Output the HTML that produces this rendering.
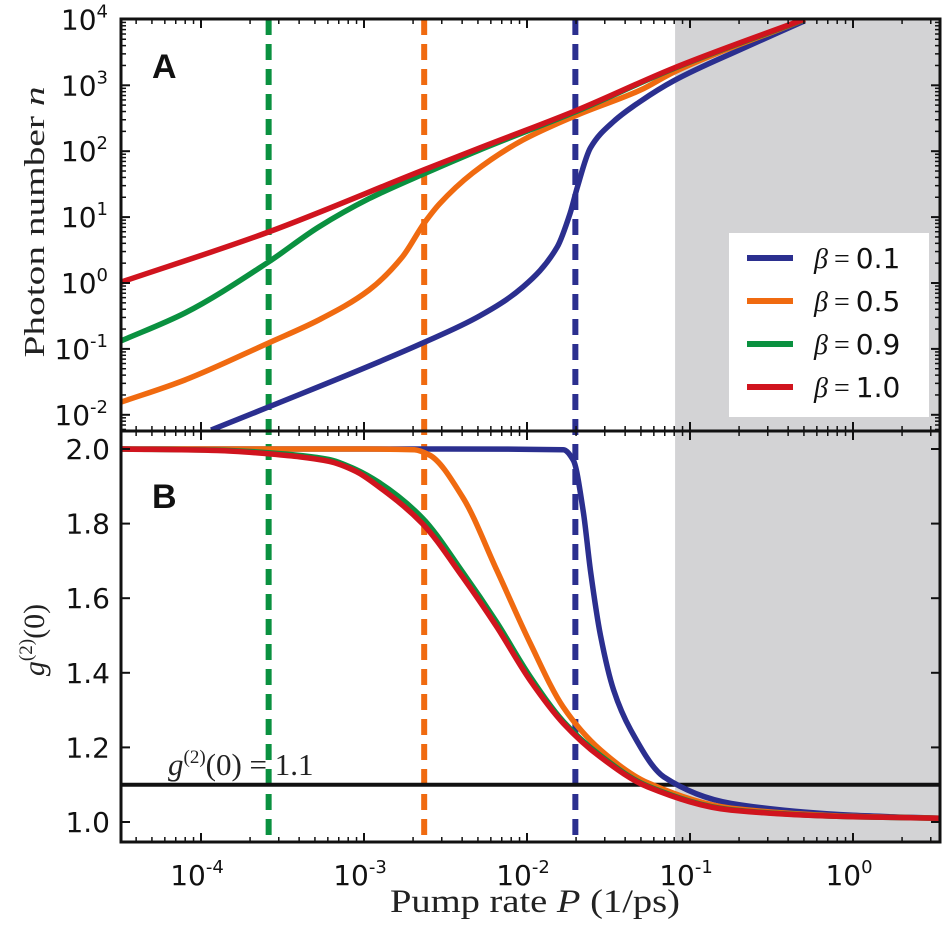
<!DOCTYPE html>
<html><head><meta charset="utf-8"><style>
body{margin:0;background:#fff;}
svg{display:block;font-family:"DejaVu Sans","Liberation Sans",sans-serif;}
.tk{font-size:28px;fill:#111;}
.sup{font-size:18px;}
</style></head><body>
<svg id="chart" width="946" height="926" viewBox="0 0 946 926" xmlns="http://www.w3.org/2000/svg">
<defs>
<clipPath id="clipA"><rect x="121" y="19" width="819" height="412"/></clipPath>
<clipPath id="clipB"><rect x="121" y="431" width="819" height="411"/></clipPath>
</defs>
<g id="bg"></g>
<g id="marks"></g>
<g id="axes"></g>
</svg>
<script>
// ---- data ----
const betaLabels = ["0.1","0.5","0.9","1.0"];
const seriesColors = ["#2b2f8f","#f06a10","#0a9140","#d0141e"];
const thresholdP = [0.0198, 0.00234, 0.00026];
const shadeStartP = 0.081;
const g2Ref = 1.1;
// Panel A: log10(P), log10(n)
const nBlueLogP = [-3.938,-3.586,-2.63,-2.29,-2.025,-1.815,-1.735,-1.691,-1.611,-1.469,-1.302,-1.099,-0.685,-0.296];
const nBlueLogN = [-2.231,-1.882,-0.9,-0.5,-0.061,0.546,1.062,1.457,2.05,2.45,2.76,3.07,3.55,3.98];
const nOrangeLogP = [-4.506,-4.099,-3.586,-3.278,-2.969,-2.765,-2.63,-2.537,-2.333,-2.025,-1.691,-1.302,-1.099,-0.296];
const nOrangeLogN = [-1.821,-1.472,-0.91,-0.561,-0.106,0.395,0.91,1.2,1.669,2.17,2.549,2.93,3.2,4.0];
const nGreenLogP = [-4.506,-4.099,-3.586,-3.278,-2.969,-2.63,-2.29,-1.691,-1.099,-0.296];
const nGreenLogN = [-0.895,-0.455,0.319,0.85,1.28,1.66,2.02,2.61,3.255,4.0];
const nRedLogP = [-4.506,-3.586,-2.63,-2.29,-1.691,-1.099,-0.296];
const nRedLogN = [0.0,0.774,1.72,2.05,2.625,3.263,4.006];
// Panel B: log10(P), g2(0)
const gBlueLogP = [-4.506,-2.5,-1.778,-1.716,-1.654,-1.611,-1.549,-1.469,-1.364,-1.16,-0.747,0,0.537];
const gBlueVal  = [2.0,2.0,1.998,1.97,1.83,1.675,1.50,1.354,1.247,1.121,1.05,1.018,1.01];
const gOrangeLogP = [-4.506,-3.0,-2.691,-2.599,-2.395,-2.185,-1.981,-1.778,-1.549,-1.259,-0.747,0,0.537];
const gOrangeVal  = [2.0,2.0,1.998,1.984,1.871,1.675,1.48,1.308,1.193,1.105,1.037,1.015,1.01];
const gGreenLogP = [-4.506,-3.9,-3.586,-3.216,-3.05,-2.907,-2.642,-2.395,-2.185,-1.981,-1.778,-1.549,-1.259,-0.747,0,0.537];
const gGreenVal  = [2.0,1.997,1.99,1.972,1.945,1.91,1.815,1.67,1.535,1.39,1.27,1.178,1.096,1.033,1.014,1.01];
const gRedLogP = [-4.506,-3.9,-3.586,-3.216,-3.05,-2.907,-2.642,-2.395,-2.185,-1.981,-1.778,-1.549,-1.259,-0.747,0,0.537];
const gRedVal  = [2.0,1.996,1.987,1.967,1.94,1.898,1.80,1.657,1.523,1.38,1.265,1.174,1.094,1.032,1.014,1.01];
const xTickLogs = [-4,-3,-2,-1,0];
const yTickLogsA = [-2,-1,0,1,2,3,4];
const yTicksB = [1.0,1.2,1.4,1.6,1.8,2.0];

// ---- scales ----
const X0=121, X1=940, YA0=19, YA1=431, YB1=842;
function xs(lp){return 853 + lp*163;}
function yA(ln){return 283 - ln*65.9;}
function yB(g){return 822 - (g-1)*373;}
const NS="http://www.w3.org/2000/svg";
function mk(tag, attrs, parent){const e=document.createElementNS(NS,tag);for(const k in attrs)e.setAttribute(k,attrs[k]);parent.appendChild(e);return e;}
const bg=document.getElementById('bg'), marks=document.getElementById('marks'), axes=document.getElementById('axes');

function pathFrom(px,py){
  const n=px.length, d=[], m=new Array(n);
  for(let i=0;i<n-1;i++) d.push((py[i+1]-py[i])/(px[i+1]-px[i]));
  m[0]=d[0]; m[n-1]=d[n-2];
  for(let i=1;i<n-1;i++){ if(d[i-1]*d[i]<=0) m[i]=0; else { const h0=px[i]-px[i-1],h1=px[i+1]-px[i];
    const w1=2*h1+h0,w2=h1+2*h0; m[i]=(w1+w2)/(w1/d[i-1]+w2/d[i]); } }
  let s="M"+px[0].toFixed(1)+","+py[0].toFixed(1);
  for(let i=0;i<n-1;i++){ const h=px[i+1]-px[i];
    s+=" C"+(px[i]+h/3).toFixed(1)+","+(py[i]+m[i]*h/3).toFixed(1)+" "+(px[i+1]-h/3).toFixed(1)+","+(py[i+1]-m[i+1]*h/3).toFixed(1)+" "+px[i+1].toFixed(1)+","+py[i+1].toFixed(1); }
  return s;
}

const sh=mk('rect',{x:xs(Math.log10(shadeStartP)),y:YA0,width:X1-xs(Math.log10(shadeStartP)),height:YB1-YA0,fill:'#d3d3d5'},bg);



const dashColors=["#2b2f8f","#f06a10","#0a9140"];
const dashNames=["threshold-beta-0.1","threshold-beta-0.5","threshold-beta-0.9"];
thresholdP.forEach((p,i)=>{
  const x=xs(Math.log10(p));
  const l=mk('line',{x1:x,x2:x,y1:YA0,y2:YB1,stroke:dashColors[i],'stroke-width':6,'stroke-dasharray':'16,9'},bg);
  
  
});

const hl=mk('line',{x1:X0,x2:X1,y1:yB(g2Ref),y2:yB(g2Ref),stroke:'#111','stroke-width':4},bg);



const gA=mk('g',{'clip-path':'url(#clipA)'},marks);
const gB=mk('g',{'clip-path':'url(#clipB)'},marks);
const nSets=[[nBlueLogP,nBlueLogN],[nOrangeLogP,nOrangeLogN],[nGreenLogP,nGreenLogN],[nRedLogP,nRedLogN]];
const gSets=[[gBlueLogP,gBlueVal],[gOrangeLogP,gOrangeVal],[gGreenLogP,gGreenVal],[gRedLogP,gRedVal]];
nSets.forEach((s,i)=>{
  const p=mk('path',{d:pathFrom(s[0].map(xs),s[1].map(yA)),fill:'none',stroke:seriesColors[i],'stroke-width':5.5,'stroke-linejoin':'round'},gA);
  
  
});
gSets.forEach((s,i)=>{
  const p=mk('path',{d:pathFrom(s[0].map(xs),s[1].map(yB)),fill:'none',stroke:seriesColors[i],'stroke-width':5.5,'stroke-linejoin':'round'},gB);
  
  
});

function tick(x1,y1,x2,y2,w){mk('line',{x1,y1,x2,y2,stroke:'#111','stroke-width':w||1.5},axes);}
const minorLogs=[];
for(let d=-5;d<=0;d++){for(let m=2;m<=9;m++){const v=d+Math.log10(m);const x=xs(v);if(x>X0&&x<X1)minorLogs.push(x);}}
for(let d=-4;d<=0;d++){const x=xs(d);[YA0,YA1,YB1].forEach(y=>{
  if(y!==YA0) tick(x,y,x,y-9,2); if(y!==YB1) tick(x,y,x,y+9,2);});}
minorLogs.forEach(x=>{[YA0,YA1,YB1].forEach(y=>{if(y!==YA0)tick(x,y,x,y-5);if(y!==YB1)tick(x,y,x,y+5);});});
yTickLogsA.forEach(v=>{const y=yA(v);tick(X0,y,X0+9,y,2);tick(X1,y,X1-9,y,2);
  for(let m=2;m<=9;m++){const yy=yA(v-1+Math.log10(m));if(yy<YA1&&yy>YA0){tick(X0,yy,X0+5,yy);tick(X1,yy,X1-5,yy);}}});
yTicksB.forEach(v=>{const y=yB(v);tick(X0,y,X0+9,y,2);tick(X1,y,X1-9,y,2);});

const fa=mk('rect',{x:X0,y:YA0,width:X1-X0,height:YA1-YA0,fill:'none',stroke:'#111','stroke-width':3},axes);


const fb=mk('rect',{x:X0,y:YA1,width:X1-X0,height:YB1-YA1,fill:'none',stroke:'#111','stroke-width':3},axes);



function powLabel(x,y,exp,anchor,name){
  const t=mk('text',{x,y,'text-anchor':anchor,class:'tk'},axes);
  
  
  t.textContent='10';
  const s=mk('tspan',{class:'sup',dy:-12},t);s.textContent=exp;
}
yTickLogsA.forEach(v=>powLabel(108,yA(v)+10,String(v),'end','y-tick-a'));
xTickLogs.forEach(v=>powLabel(xs(v)-4,885,String(v),'middle','x-tick'));
yTicksB.forEach(v=>{const t=mk('text',{x:110,y:yB(v)+10,'text-anchor':'end',class:'tk'},axes);
  
  
  t.textContent=v.toFixed(1);});

const lg=mk('g',{},axes);


mk('rect',{x:729,y:233,width:200,height:184,fill:'#fff'},lg);
betaLabels.forEach((b,i)=>{
  const y=258+i*43;
  const e=mk('g',{},lg);
  
  
  mk('line',{x1:747,x2:793,y1:y,y2:y,stroke:seriesColors[i],'stroke-width':6},e);
  const t=mk('text',{x:814,y:y+10,class:'tk'},e);
  const a=mk('tspan',{'font-family':'Liberation Serif, serif','font-style':'italic'},t);a.textContent='β';
  const c=mk('tspan',{'font-family':'Liberation Serif, serif',dx:6},t);c.textContent='=';
  const d=mk('tspan',{dx:6},t);d.textContent=b;
});
</script>
<div style="position:absolute;left:0;top:0;width:946px;height:926px;pointer-events:none;">
<svg width="946" height="926" style="position:absolute;left:0;top:0" xmlns="http://www.w3.org/2000/svg">
<text x="152" y="78" font-family="Liberation Sans, sans-serif" font-weight="bold" font-size="34" fill="#111">A</text>
<text x="152" y="508" font-family="Liberation Sans, sans-serif" font-weight="bold" font-size="34" fill="#111">B</text>
<text x="168" y="775" font-family="Liberation Serif, serif" font-size="31" fill="#222"><tspan font-style="italic">g</tspan><tspan font-size="19" dy="-12">(2)</tspan><tspan dy="12">(0) = 1.1</tspan></text>
<text transform="translate(44,222) rotate(-90)" text-anchor="middle" font-family="Liberation Serif, serif" font-size="29" fill="#222" textLength="271" lengthAdjust="spacingAndGlyphs">Photon number <tspan font-style="italic">n</tspan></text>
<text transform="translate(44,640) rotate(-90)" text-anchor="middle" font-family="Liberation Serif, serif" font-size="30" fill="#222"><tspan font-style="italic">g</tspan><tspan font-size="19" dy="-12">(2)</tspan><tspan dy="12">(0)</tspan></text>
<text x="535" y="912" text-anchor="middle" font-family="Liberation Serif, serif" font-size="33" fill="#222" textLength="290" lengthAdjust="spacingAndGlyphs">Pump rate <tspan font-style="italic">P</tspan> (1/ps)</text>
</svg>
</div>
</body></html>
